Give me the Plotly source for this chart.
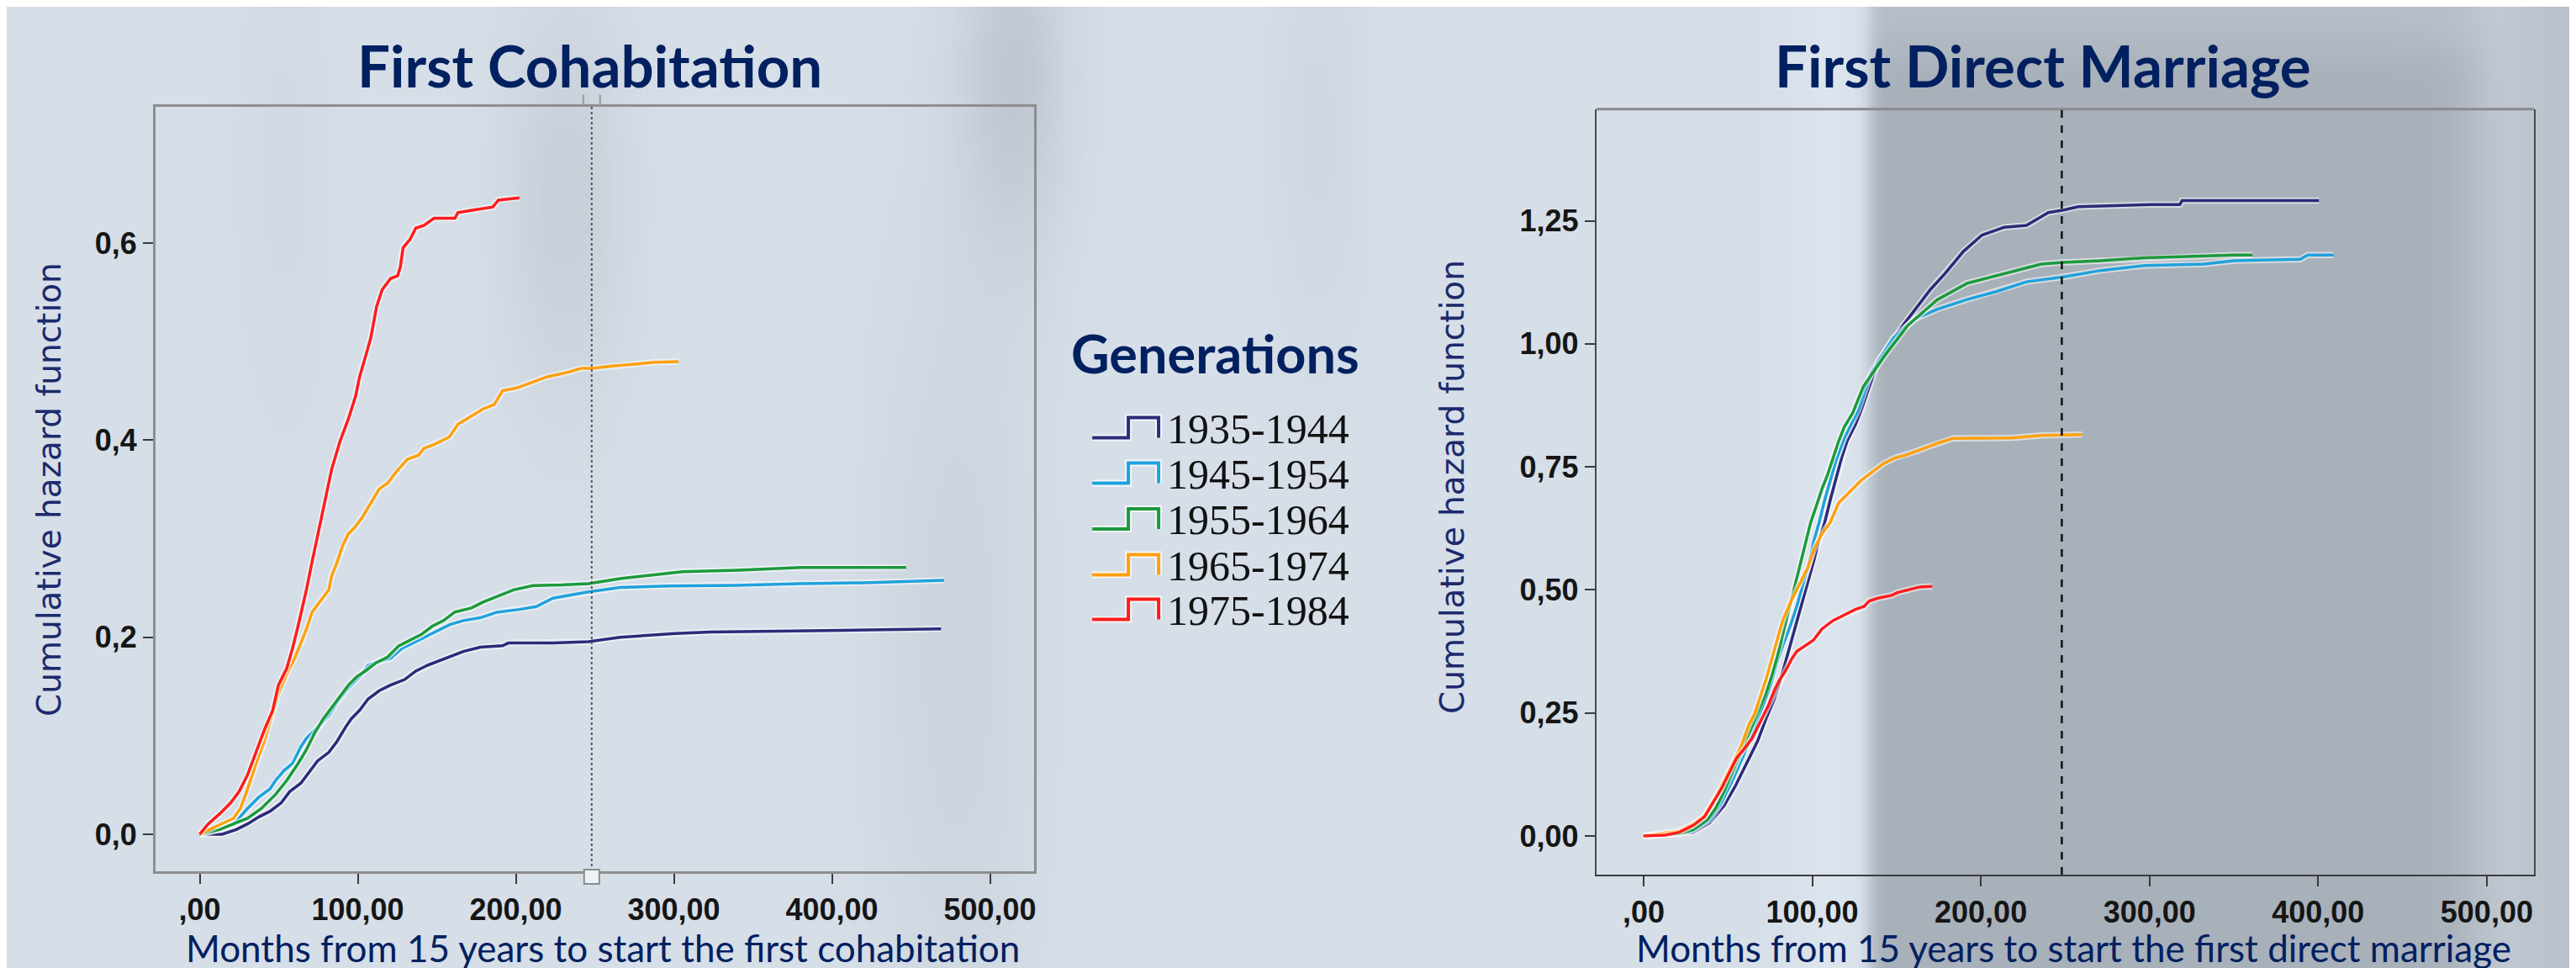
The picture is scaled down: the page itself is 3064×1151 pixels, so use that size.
import base64
import math
import struct
import zlib

import plotly.graph_objects as go

W_PX, H_PX = 3064, 1151

# ---------------- data ----------------
generations = ["1935-1944", "1945-1954", "1955-1964", "1965-1974", "1975-1984"]
series_colors = ["#2d2a7a", "#1fa2dc", "#1c9a3c", "#ffa010", "#ff1c1c"]

x_ticks = [0, 100, 200, 300, 400, 500]
x_ticktext = [",00", "100,00", "200,00", "300,00", "400,00", "500,00"]
y_ticks_cohab = [0, 0.2, 0.4, 0.6]
y_ticktext_cohab = ["0,0", "0,2", "0,4", "0,6"]
y_ticks_marr = [0, 0.25, 0.5, 0.75, 1.0, 1.25]
y_ticktext_marr = ["0,00", "0,25", "0,50", "0,75", "1,00", "1,25"]

ref_month = 248

# First cohabitation (months, cumulative hazard)
cohab_1935_x = [0, 14.2, 23.2, 30.3, 37.4, 44.5, 51.6, 56.9, 64, 69.3, 74.6, 81.7, 87, 92.3, 95.9, 101.2, 106.5, 113.6,
                120.7, 129.6, 136.7, 143.8, 152.7, 159.6, 166.8, 177.5, 191.6, 195.2, 223.5, 246, 266, 301, 323, 407, 469]
cohab_1935_y = [0, 0, 0.0048, 0.0105, 0.0176, 0.0233, 0.0319, 0.0432, 0.0518, 0.0632, 0.0745, 0.0831, 0.0945, 0.1087,
                0.1172, 0.1258, 0.1372, 0.1457, 0.1514, 0.157, 0.1656, 0.1713, 0.177, 0.1813, 0.1855, 0.1898, 0.1913,
                0.1941, 0.1941, 0.1955, 0.2, 0.2037, 0.2053, 0.207, 0.2085]
cohab_1945_x = [0, 12.5, 21.4, 23.2, 30.3, 37.4, 44.5, 48, 53.3, 58.7, 64, 67.5, 74.6, 81.7, 87, 94.1, 101.2, 106.5,
                113.6, 120.7, 127.8, 134.9, 142, 149.1, 158, 166.8, 177.5, 188.1, 202.3, 212.9, 223.5, 246, 266, 297,
                340, 380, 420, 471]
cohab_1945_y = [0, 0.0048, 0.0105, 0.0134, 0.0262, 0.0376, 0.0461, 0.0546, 0.0646, 0.0717, 0.0888, 0.0973, 0.1087,
                0.1201, 0.1343, 0.1485, 0.1599, 0.1713, 0.1756, 0.1784, 0.1884, 0.1941, 0.1998, 0.2055, 0.2126, 0.2169,
                0.2197, 0.2254, 0.2282, 0.2311, 0.2396, 0.246, 0.2505, 0.252, 0.2527, 0.2544, 0.2553, 0.2577]
cohab_1955_x = [0, 12.5, 21.4, 30.3, 39.1, 48, 55.1, 62.2, 67.5, 72.8, 78.2, 83.5, 88.8, 94.1, 99.4, 104.7, 111.8,
                118.9, 126, 133, 140.1, 147.2, 154.3, 161.3, 172, 179, 189.7, 198.6, 211, 228.7, 246, 266, 292.4, 305.6,
                341, 380.6, 447]
cohab_1955_y = [0, 0.0048, 0.0105, 0.0162, 0.0262, 0.0404, 0.0546, 0.0717, 0.0859, 0.103, 0.1172, 0.1286, 0.14,
                0.1514, 0.1599, 0.1656, 0.1742, 0.1799, 0.1913, 0.197, 0.2026, 0.2112, 0.2169, 0.2254, 0.2297, 0.2354,
                0.2425, 0.2481, 0.2524, 0.253, 0.2544, 0.2595, 0.2642, 0.2665, 0.268, 0.2707, 0.2707]
cohab_1965_x = [0, 12.5, 21.4, 25.8, 30.3, 35.6, 40.9, 46.2, 49.8, 55.1, 60.4, 64, 67.5, 71.1, 76.4, 81.7, 83.5, 87,
                90.6, 94.1, 97.7, 103, 108.3, 113.6, 118.9, 124.3, 131.4, 138.5, 142, 149.1, 158, 163.3, 172.1, 179.3,
                186.3, 191.6, 200.5, 207.6, 220, 232.4, 241.3, 248.4, 260.8, 288, 303]
cohab_1965_y = [0, 0.0091, 0.0162, 0.0262, 0.046, 0.0717, 0.0945, 0.123, 0.1429, 0.1628, 0.1799, 0.1941, 0.2083,
                0.2254, 0.2368, 0.2481, 0.2623, 0.2765, 0.2936, 0.305, 0.3107, 0.322, 0.3363, 0.3505, 0.3563, 0.3677,
                0.3805, 0.3848, 0.3919, 0.3962, 0.4033, 0.416, 0.4246, 0.4317, 0.436, 0.4502, 0.453, 0.4573, 0.4644,
                0.4687, 0.4729, 0.4729, 0.4752, 0.479, 0.4797]
cohab_1975_x = [0, 5.4, 12.5, 19.6, 24.9, 30.3, 35.6, 40.9, 46.2, 49.8, 55.1, 58.7, 62.2, 65.7, 67.5, 71.1, 73.8, 76.4,
                79.1, 83.5, 88.8, 94.1, 98.6, 101.2, 104.8, 108.3, 111.9, 115.4, 120.7, 125.2, 126.9, 128.7, 133.1,
                136.7, 142, 148.2, 161.5, 163.3, 173.9, 185.4, 189, 202.3]
cohab_1975_y = [0, 0.0105, 0.0205, 0.0319, 0.0432, 0.0603, 0.0831, 0.1059, 0.1258, 0.1514, 0.1685, 0.1884, 0.211,
                0.2339, 0.2481, 0.2765, 0.2965, 0.3164, 0.3392, 0.3705, 0.399, 0.4217, 0.4445, 0.4644, 0.4843, 0.5042,
                0.5355, 0.5526, 0.564, 0.5668, 0.5754, 0.5953, 0.6038, 0.6152, 0.6181, 0.6252, 0.6252, 0.6309, 0.6337,
                0.6366, 0.6437, 0.646]

# First direct marriage (months, cumulative hazard)
marr_1935_x = [0, 29.5, 39.4, 47.7, 54.4, 61, 67.6, 72.6, 77.5, 80.8, 84.1, 87.5, 90.8, 94.1, 97.5, 100.8, 104.1,
               107.4, 110.7, 114.1, 117.4, 120.7, 125.7, 129, 139.2, 154.6, 170, 178.7, 189.7, 200.7, 213.9, 227, 240,
               249, 257.8, 301.7, 318, 319.3, 400.5]
marr_1935_y = [0, 0.0074, 0.0274, 0.0615, 0.1014, 0.147, 0.1926, 0.2382, 0.2781, 0.3123, 0.3521, 0.3977, 0.4376,
               0.4775, 0.5174, 0.5573, 0.6029, 0.6371, 0.6827, 0.7282, 0.7681, 0.8023, 0.8365, 0.865, 0.966, 1.041,
               1.11, 1.1425, 1.188, 1.221, 1.237, 1.2406, 1.2667, 1.272, 1.2786, 1.283, 1.283, 1.291, 1.291]
marr_1945_x = [0, 29.5, 39.4, 46.1, 52.7, 59.3, 66, 70.9, 75.9, 79.2, 82.5, 87.5, 90.8, 94.1, 97.5, 100.8, 104.1,
               107.4, 110.7, 114.1, 119, 124, 127.3, 134.8, 148, 161.1, 174.3, 191.8, 209.5, 227, 249, 271, 297.3,
               332.4, 350, 389.4, 393.8, 409.2]
marr_1945_y = [0, 0.0103, 0.033, 0.0672, 0.1128, 0.1641, 0.2211, 0.2667, 0.3123, 0.3521, 0.3863, 0.4319, 0.4661,
               0.506, 0.5459, 0.5972, 0.6371, 0.6827, 0.7225, 0.7624, 0.808, 0.8422, 0.865, 0.94, 1.0116, 1.051,
               1.0706, 1.09, 1.1065, 1.126, 1.136, 1.149, 1.159, 1.162, 1.1687, 1.172, 1.1805, 1.1805]
marr_1955_x = [0, 21.2, 29.5, 37.8, 42.7, 47.7, 52.7, 57.7, 62.6, 67.6, 72.6, 75.9, 79.2, 82.5, 85.9, 89.2, 92.5,
               95.8, 99.1, 102.5, 105.8, 109.1, 112.4, 115.7, 119, 124, 130.4, 143.6, 156.8, 174.3, 191.8, 213.9, 235.8,
               249, 271, 297.3, 323.7, 350, 361]
marr_1955_y = [0, 0.0046, 0.0131, 0.033, 0.0558, 0.09, 0.1299, 0.1698, 0.2097, 0.2496, 0.2895, 0.3236, 0.3635,
               0.4091, 0.4547, 0.5003, 0.5459, 0.5915, 0.6371, 0.6712, 0.7054, 0.7339, 0.7681, 0.8023, 0.8308, 0.8593,
               0.9135, 0.979, 1.038, 1.09, 1.123, 1.1425, 1.162, 1.1655, 1.1687, 1.175, 1.1785, 1.1805, 1.1805]
marr_1965_x = [0, 21.2, 29.5, 36.1, 42.7, 47.7, 52.7, 57.7, 62.6, 66, 69.3, 72.6, 75.9, 79.2, 82.5, 87.5, 92.5, 97.5,
               100.8, 105.8, 110.7, 115.7, 122.4, 129, 135.6, 142.3, 148.9, 155.5, 162.2, 168.8, 175.4, 183.7, 218.2,
               235.8, 260]
marr_1965_y = [0, 0.0103, 0.0245, 0.0416, 0.0786, 0.1128, 0.147, 0.1812, 0.2268, 0.2496, 0.2838, 0.3179, 0.3578,
               0.3977, 0.4376, 0.4775, 0.5117, 0.5459, 0.5801, 0.6143, 0.6371, 0.6769, 0.6997, 0.7225, 0.7396, 0.7567,
               0.7681, 0.7738, 0.7823, 0.7909, 0.7994, 0.808, 0.8089, 0.814, 0.8154]
marr_1975_x = [0, 12.9, 21.2, 29.5, 36.1, 41.1, 46.1, 51, 55.2, 59.3, 64.3, 69.3, 74.2, 77.5, 80.8, 84.1, 87.5, 90.8,
               95.8, 100.7, 105.7, 112.3, 119, 125.6, 130.6, 133.9, 138.9, 147.2, 150.5, 157.1, 163.7, 171.2]
marr_1975_y = [0, 0.0017, 0.0074, 0.0217, 0.0387, 0.0672, 0.0957, 0.1299, 0.1584, 0.1755, 0.1983, 0.2325, 0.2667,
               0.2952, 0.3179, 0.335, 0.3578, 0.3749, 0.3863, 0.3977, 0.4205, 0.4376, 0.449, 0.4604, 0.4661, 0.4775,
               0.4832, 0.4889, 0.4946, 0.5003, 0.506, 0.5071]

cohab_series = [(cohab_1935_x, cohab_1935_y), (cohab_1945_x, cohab_1945_y), (cohab_1955_x, cohab_1955_y),
                (cohab_1965_x, cohab_1965_y), (cohab_1975_x, cohab_1975_y)]
marr_series = [(marr_1935_x, marr_1935_y), (marr_1945_x, marr_1945_y), (marr_1955_x, marr_1955_y),
               (marr_1965_x, marr_1965_y), (marr_1975_x, marr_1975_y)]


# ---------------- background image (pure python PNG) ----------------
def sig(t):
    t = max(-40.0, min(40.0, t))
    return 1.0 / (1.0 + math.exp(-t))


def mix(c1, c2, a):
    return tuple(c1[i] + (c2[i] - c1[i]) * a for i in range(3))


def bg_pixel(x, y):
    col = (214, 222, 232)
    blobs = [(665, 230, 50, 170, 15), (1200, 80, 45, 150, 22), (1130, 760, 70, 380, 10),
             (330, 200, 40, 250, 5), (1560, 150, 40, 200, 7)]
    d = 0.0
    for cx, cy, sx, sy, k in blobs:
        d += k * math.exp(-(((x - cx) / sx) ** 2 + ((y - cy) / sy) ** 2) / 2)
    col = tuple(c - d for c in col)
    li = 6 * math.exp(-(((x - 2170) / 35) ** 2) / 2)
    col = tuple(c + li for c in col)
    band = (168, 176, 186)
    band = mix(band, (182, 190, 200), 1 - sig((y - 50) / 15))
    s = sig((x - 2218) / 5) * (1 - sig((x - 2960) / 20))
    col = mix(col, band, s)
    col = mix(col, (186, 194, 204), sig((x - 2960) / 20))
    return tuple(int(max(0, min(255, round(c)))) for c in col)


def make_bg_png(w, h):
    rows = []
    for j in range(h):
        y = (j + 0.5) * H_PX / h
        row = bytearray([0])
        for i in range(w):
            x = (i + 0.5) * W_PX / w
            row.extend(bg_pixel(x, y))
        rows.append(bytes(row))
    raw = b"".join(rows)

    def chunk(t, data):
        return struct.pack(">I", len(data)) + t + data + struct.pack(">I", zlib.crc32(t + data) & 0xFFFFFFFF)

    png = b"\x89PNG\r\n\x1a\n" + chunk(b"IHDR", struct.pack(">IIBBBBB", w, h, 8, 2, 0, 0, 0)) \
        + chunk(b"IDAT", zlib.compress(raw, 9)) + chunk(b"IEND", b"")
    return "data:image/png;base64," + base64.b64encode(png).decode()


bg_src = make_bg_png(383, 144)

# ---------------- figure ----------------
fig = go.Figure()


def px_x(p):
    return p / W_PX


def px_y(p):
    return 1 - p / H_PX


for (xs, ys), col in zip(cohab_series, series_colors):
    fig.add_trace(go.Scatter(x=xs, y=ys, mode="lines", xaxis="x", yaxis="y", showlegend=False,
                             line=dict(color="rgba(255,255,255,0.55)", width=7.5), hoverinfo="skip"))
    fig.add_trace(go.Scatter(x=xs, y=ys, mode="lines", xaxis="x", yaxis="y", showlegend=False,
                             line=dict(color=col, width=3.5)))
for (xs, ys), col in zip(marr_series, series_colors):
    fig.add_trace(go.Scatter(x=xs, y=ys, mode="lines", xaxis="x2", yaxis="y2", showlegend=False,
                             line=dict(color="rgba(255,255,255,0.55)", width=7.5), hoverinfo="skip"))
    fig.add_trace(go.Scatter(x=xs, y=ys, mode="lines", xaxis="x2", yaxis="y2", showlegend=False,
                             line=dict(color=col, width=3.5)))

tickfont = dict(family="Liberation Sans", size=36, color="#151515", weight="bold")
common_axis = dict(showgrid=False, zeroline=False, ticks="outside", ticklen=12, tickwidth=2,
                   tickcolor="#3a3a3a", tickfont=tickfont, fixedrange=True)

fig.update_layout(
    width=W_PX, height=H_PX,
    margin=dict(l=0, r=0, t=0, b=0),
    paper_bgcolor="#d6dee8",
    plot_bgcolor="rgba(0,0,0,0)",
    xaxis=dict(domain=[px_x(177), px_x(1223)], range=[-28, 528], tickvals=x_ticks, ticktext=x_ticktext,
               anchor="y", showline=True, mirror=True, linecolor="#8e8e8e", linewidth=3, **common_axis),
    yaxis=dict(domain=[px_y(1028), px_y(118.6)], range=[-0.0376, 0.7387], tickvals=y_ticks_cohab,
               ticktext=y_ticktext_cohab, anchor="x", showline=True, mirror=True, linecolor="#8e8e8e",
               linewidth=3, **common_axis),
    xaxis2=dict(domain=[px_x(1892), px_x(3008)], range=[-28, 528], tickvals=x_ticks, ticktext=x_ticktext,
                anchor="y2", showline=True, mirror=False, linecolor="#3c3c3c", linewidth=2, **common_axis),
    yaxis2=dict(domain=[px_y(1032), px_y(121.7)], range=[-0.0786, 1.477], tickvals=y_ticks_marr,
                ticktext=y_ticktext_marr, anchor="x2", showline=True, mirror=True, linecolor="#4a4a4a",
                linewidth=2, **common_axis),
    images=[dict(source=bg_src, xref="paper", yref="paper", x=0, y=1, sizex=1, sizey=1,
                 sizing="stretch", layer="below", xanchor="left", yanchor="top")],
)

shapes = []
shapes.append(dict(type="line", xref="x2 domain", yref="y2 domain", x0=0, x1=1, y0=1, y1=1,
                   line=dict(color="#8a8a8a", width=3)))
shapes.append(dict(type="line", xref="x", yref="y domain", x0=ref_month, x1=ref_month, y0=0, y1=1,
                   line=dict(color="#555555", width=2, dash="dot")))
shapes.append(dict(type="line", xref="x2", yref="y2 domain", x0=ref_month, x1=ref_month, y0=0, y1=1,
                   line=dict(color="#111111", width=2.5, dash="dash")))
shapes.append(dict(type="rect", xref="x", yref="y domain", xsizemode="pixel", xanchor=ref_month,
                   x0=-9, x1=9, ysizemode="pixel", yanchor=0, y0=2, y1=-15,
                   fillcolor="#eef2f6", line=dict(color="#8a8a8a", width=2)))
shapes.append(dict(type="path", xref="x", yref="y domain", xsizemode="pixel", xanchor=ref_month,
                   ysizemode="pixel", yanchor=1, path="M -10 0 L -10 14 M 10 0 L 10 14",
                   line=dict(color="#9a9a9a", width=2)))

legend_centers = [500.5, 554.5, 609, 663.5, 716.5]
for g, col, cy in zip(generations, series_colors, legend_centers):
    pts = [(1292, cy + 12), (1335, cy + 12), (1335, cy - 12), (1371, cy - 12), (1371, cy + 12)]
    path = "M " + " L ".join(f"{px_x(a):.5f} {px_y(b):.5f}" for a, b in pts)
    shapes.append(dict(type="path", xref="paper", yref="paper", path=path,
                       line=dict(color="rgba(255,255,255,0.75)", width=8)))
    shapes.append(dict(type="path", xref="paper", yref="paper", path=path,
                       line=dict(color=col, width=4)))
fig.update_layout(shapes=shapes)

title_color = "#002060"
annotations = [
    dict(text="<b>First Cohabitation</b>", x=px_x(694), y=px_y(69),
         font=dict(family="Lato", size=69, color=title_color)),
    dict(text="<b>First Direct Marriage</b>", x=px_x(2424), y=px_y(69),
         font=dict(family="Lato", size=69, color=title_color)),
    dict(text="<b>Generations</b>", x=px_x(1438), y=px_y(411),
         font=dict(family="Lato", size=63, color=title_color)),
    dict(text="Months from 15 years to start the first cohabitation", x=px_x(709), y=px_y(1119),
         font=dict(family="Lato", size=44, color=title_color)),
    dict(text="Months from 15 years to start the first direct marriage", x=px_x(2460), y=px_y(1119),
         font=dict(family="Lato", size=44, color=title_color)),
    dict(text="Cumulative hazard function", x=px_x(50), y=px_y(574), textangle=-90,
         font=dict(family="DejaVu Sans", size=39, color="#1c2a6c")),
    dict(text="Cumulative hazard function", x=px_x(1720), y=px_y(571), textangle=-90,
         font=dict(family="DejaVu Sans", size=39, color="#1c2a6c")),
]
for g, cy in zip(generations, legend_centers):
    annotations.append(dict(text=g, x=px_x(1379), y=px_y(cy + 1), xanchor="left",
                            font=dict(family="Liberation Serif", size=50, color="#111111")))
for a in annotations:
    a.setdefault("xref", "paper")
    a.setdefault("yref", "paper")
    a.setdefault("showarrow", False)
    a.setdefault("xanchor", "center")
    a.setdefault("yanchor", "middle")
fig.update_layout(annotations=annotations)

fig.write_html("out.html")
